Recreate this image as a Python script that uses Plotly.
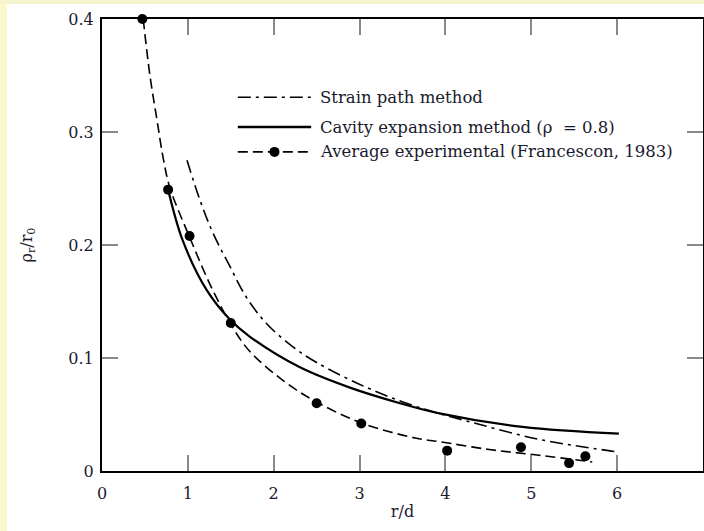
import plotly.graph_objects as go

# Experimental points (Francescon, 1983)
exp_x = [0.47, 0.77, 1.02, 1.50, 2.50, 3.02, 4.02, 4.88, 5.44, 5.63]
exp_y = [0.400, 0.249, 0.208, 0.131, 0.060, 0.042, 0.018, 0.021, 0.007, 0.013]

# Average experimental fit curve (dashed)
fit_x = [0.48, 0.56, 0.64, 0.71, 0.79, 1.02, 1.29, 1.53, 1.72, 2.11, 2.50, 3.04, 3.66, 3.93, 4.51, 5.09, 5.71]
fit_y = [0.400, 0.349, 0.311, 0.278, 0.251, 0.207, 0.160, 0.126, 0.106, 0.080, 0.061, 0.042, 0.029, 0.026, 0.019, 0.014, 0.008]

# Cavity expansion method (solid)
cav_x = [0.77, 0.94, 1.22, 1.49, 1.72, 2.30, 2.88, 3.47, 3.93, 4.90, 6.02]
cav_y = [0.249, 0.204, 0.160, 0.134, 0.119, 0.092, 0.074, 0.060, 0.051, 0.039, 0.033]

# Strain path method (dash-dot)
sp_x = [0.99, 1.14, 1.29, 1.49, 1.68, 1.91, 2.22, 2.50, 3.08, 3.66, 4.31, 5.09, 5.90, 6.00]
sp_y = [0.275, 0.240, 0.211, 0.181, 0.154, 0.131, 0.110, 0.096, 0.074, 0.057, 0.043, 0.028, 0.018, 0.017]

legend_labels = ["Strain path method",
                 "Cavity expansion method (\u03c1  = 0.8)",
                 "Average experimental (Francescon, 1983)"]

x_ticks = [0, 1, 2, 3, 4, 5, 6, 7]
y_ticks = [0, 0.1, 0.2, 0.3, 0.4]
y_tick_text = ["0", "0.1", "0.2", "0.3", "0.4"]

FONT = "DejaVu Serif"
TXT = "#1a1a2e"
DASHDOT = "13px,5px,3px,5px"
DASH = "10px,5px"

fig = go.Figure()
fig.add_trace(go.Scatter(x=sp_x, y=sp_y, mode="lines", line=dict(color="black", width=1.6, dash=DASHDOT, shape="spline"), name=legend_labels[0]))
fig.add_trace(go.Scatter(x=cav_x, y=cav_y, mode="lines", line=dict(color="black", width=2.2, shape="spline"), name=legend_labels[1]))
fig.add_trace(go.Scatter(x=fit_x, y=fit_y, mode="lines", line=dict(color="black", width=1.6, dash=DASH, shape="spline"), name=legend_labels[2]))
fig.add_trace(go.Scatter(x=exp_x, y=exp_y, mode="markers", marker=dict(color="black", size=10), name="points", cliponaxis=False))

# legend drawn manually
rows_y = [0.827, 0.761, 0.706]
x0, x1 = 0.226, 0.348
shapes = [
    dict(type="rect", xref="paper", yref="paper", x0=-0.2, x1=-0.158, y0=-0.2, y1=1.2, fillcolor="#fbf8cc", line=dict(width=0), layer="below"),
    dict(type="rect", xref="paper", yref="paper", x0=-0.2, x1=1.2, y0=1.033, y1=1.2, fillcolor="#f6f4cf", line=dict(width=0), layer="below"),
    dict(type="line", xref="paper", yref="paper", x0=x0, x1=x1, y0=rows_y[0], y1=rows_y[0], line=dict(color="black", width=1.6, dash=DASHDOT)),
    dict(type="line", xref="paper", yref="paper", x0=x0, x1=x1, y0=rows_y[1], y1=rows_y[1], line=dict(color="black", width=2.6)),
    dict(type="line", xref="paper", yref="paper", x0=x0, x1=x1, y0=rows_y[2], y1=rows_y[2], line=dict(color="black", width=1.6, dash=DASH)),
    dict(type="circle", xref="paper", yref="paper", xsizemode="pixel", ysizemode="pixel", xanchor=(x0 + x1) / 2, yanchor=rows_y[2], x0=-5, x1=5, y0=-5, y1=5, fillcolor="black", line=dict(width=0)),
]
annotations = [
    dict(xref="paper", yref="paper", x=x1 + 0.011, y=ry, text=t, showarrow=False, xanchor="left", yanchor="middle", font=dict(family=FONT, size=16.5, color=TXT))
    for ry, t in zip(rows_y, legend_labels)
]

fig.update_layout(
    width=704, height=531,
    margin=dict(l=102, r=1, t=19, b=60, autoexpand=False),
    paper_bgcolor="white", plot_bgcolor="white",
    showlegend=False,
    shapes=shapes, annotations=annotations,
    font=dict(family=FONT, size=16, color=TXT),
    xaxis=dict(range=[0, 7], tickvals=x_ticks, ticks="inside", ticklen=16, tickwidth=1.5, tickcolor="#888888",
               showline=True, linecolor="black", linewidth=2, mirror="ticks", showgrid=False, zeroline=False,
               automargin=False, ticklabelstandoff=7,
               title=dict(text="r/d", font=dict(family=FONT, size=16, color=TXT), standoff=4),
               tickfont=dict(family=FONT, size=16, color=TXT)),
    yaxis=dict(range=[0, 0.4], tickvals=y_ticks, ticktext=y_tick_text, ticks="inside", ticklen=16, tickwidth=1.5, tickcolor="#888888",
               showline=True, linecolor="black", linewidth=2, mirror="ticks", showgrid=False, zeroline=False,
               automargin=False, ticklabelstandoff=3,
               title=dict(text="\u03c1<sub>r</sub>/r<sub>0</sub>", font=dict(family=FONT, size=16, color=TXT), standoff=32),
               tickfont=dict(family=FONT, size=16, color=TXT)),
)

fig.write_html("out.html", config={"displayModeBar": False},
               post_script="document.body.style.margin='0px';document.body.style.overflow='hidden';")
